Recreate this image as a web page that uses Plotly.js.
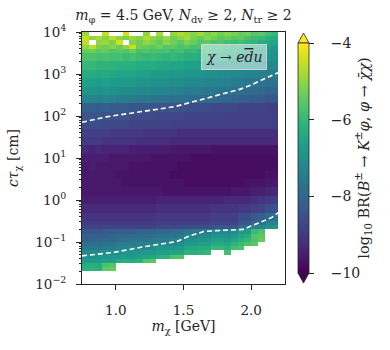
<!DOCTYPE html>
<html>
<head>
<meta charset="utf-8">
<script src="https://cdn.plot.ly/plotly-3.0.1.min.js"></script>
<style>
  html, body { margin:0; padding:0; background:#fff; }
  #chart { width:390px; height:350px; }
</style>
</head>
<body>
<div id="chart"></div>
<script>
var N = null; // empty cell (no events)

// bin edges: m_chi [GeV] and log10(c tau / cm)
var massEdges = [0.75,0.80,0.85,0.90,0.95,1.00,1.05,1.10,1.15,1.20,1.25,1.30,1.35,1.40,1.45,
                 1.50,1.55,1.60,1.65,1.70,1.75,1.80,1.85,1.90,1.95,2.00,2.05,2.10,2.15,2.20];
var logCtEdges = [-1.7,-1.6,-1.5,-1.4,-1.3,-1.2,-1.1,-1.0,-0.9,-0.8,-0.7,-0.6,-0.5,
                  -0.3,-0.1,0.1,0.3,0.5,0.7,0.9,1.1,1.3,1.5,1.7,1.9,2.1,2.3,2.5,2.7,2.9,3.1,3.3,3.5,
                  3.6,3.7,3.8,3.9,4.0];

// log10 BR reach, one row per c tau bin, from the bottom up
var brRows = [
 [-6.2,-6.1,-6.2,-5.5,-5.4,N,N,N,N,N,N,N,N,N,N,N,N,N,N,N,N,N,N,N,N,N,N,N,N],
 [-6.3,-6.2,-6.3,-5.7,-5.6,N,N,N,N,N,N,N,N,N,N,N,N,N,N,N,N,N,N,N,N,N,N,N,N],
 [-6.7,-6.8,-6.7,-6.6,-6.6,-6.3,-6.2,-6.3,-6.2,-5.6,-5.5,N,N,N,N,N,N,N,N,N,N,N,N,N,N,N,N,N,N],
 [-6.9,-7.0,-6.9,-6.9,-6.8,-6.7,-6.7,-6.7,-6.6,-6.5,-6.4,-6.2,-6.1,-5.7,-5.6,N,N,N,N,N,N,N,N,N,N,N,N,N,N],
 [-7.2,-7.2,-7.2,-7.1,-7.1,-7.0,-6.9,-6.9,-6.9,-6.8,-6.8,-6.6,-6.6,-6.5,-6.5,-6.1,-6.2,-6.1,-6.0,N,N,-5.8,N,N,N,N,N,N,N],
 [-7.6,-7.6,-7.6,-7.5,-7.5,-7.3,-7.3,-7.2,-7.2,-7.2,-7.1,-6.9,-6.9,-6.9,-6.8,-6.4,-6.4,-6.3,-6.3,-5.9,-6.0,-6.1,-5.8,-5.7,N,N,N,N,N],
 [-7.8,-7.8,-7.8,-7.7,-7.7,-7.5,-7.5,-7.5,-7.4,-7.4,-7.4,-7.2,-7.2,-7.2,-7.1,-6.7,-6.7,-6.6,-6.6,-6.3,-6.3,-6.4,-6.1,-5.9,-5.7,-5.5,N,N,N],
 [-8.1,-8.1,-8.0,-8.0,-8.0,-7.8,-7.8,-7.7,-7.7,-7.7,-7.6,-7.5,-7.5,-7.4,-7.4,-7.0,-7.0,-6.9,-6.9,-6.6,-6.6,-6.7,-6.5,-6.2,-6.0,-5.7,-5.4,N,N],
 [-8.2,-8.2,-8.2,-8.2,-8.1,-8.0,-8.0,-7.9,-7.9,-7.9,-7.9,-7.7,-7.7,-7.7,-7.6,-7.3,-7.3,-7.2,-7.2,-6.9,-6.9,-7.0,-6.8,-6.5,-6.3,-5.6,-5.5,N,N],
 [-8.4,-8.4,-8.4,-8.3,-8.3,-8.2,-8.2,-8.2,-8.1,-8.1,-8.1,-8.0,-8.0,-7.9,-7.9,-7.6,-7.6,-7.5,-7.5,-7.2,-7.2,-7.2,-7.1,-6.8,-6.7,-5.9,-5.7,N,N],
 [-8.8,-8.8,-8.8,-8.8,-8.8,-8.8,-8.8,-8.8,-8.8,-8.8,-8.8,-8.7,-8.7,-8.7,-8.7,-8.6,-8.6,-8.6,-8.6,-8.4,-8.4,-8.4,-8.4,-7.9,-7.8,-7.4,-7.2,-7.0,-6.9],
 [-9.0,-9.0,-9.0,-9.0,-9.0,-9.0,-9.0,-9.0,-9.0,-9.0,-9.0,-8.9,-8.9,-8.9,-8.9,-8.9,-8.9,-8.9,-8.9,-8.8,-8.8,-8.8,-8.8,-8.4,-8.3,-8.0,-7.8,-7.4,-7.3],
 [-9.1,-9.1,-9.1,-9.1,-9.1,-9.1,-9.1,-9.1,-9.1,-9.1,-9.1,-9.0,-9.0,-9.0,-9.0,-9.0,-9.0,-9.0,-9.0,-8.9,-8.9,-8.9,-8.9,-8.6,-8.6,-8.3,-8.2,-7.9,-7.8],
 [-9.3,-9.3,-9.3,-9.3,-9.3,-9.3,-9.3,-9.3,-9.3,-9.3,-9.3,-9.2,-9.2,-9.2,-9.2,-9.2,-9.2,-9.2,-9.2,-9.1,-9.1,-9.1,-9.1,-9.0,-9.0,-8.9,-8.8,-8.6,-8.5],
 [-9.5,-9.5,-9.5,-9.5,-9.5,-9.5,-9.5,-9.5,-9.5,-9.5,-9.5,-9.4,-9.4,-9.4,-9.4,-9.4,-9.4,-9.4,-9.4,-9.4,-9.4,-9.3,-9.3,-9.3,-9.3,-9.2,-9.1,-9.0,-8.9],
 [-9.6,-9.6,-9.6,-9.6,-9.6,-9.6,-9.6,-9.6,-9.6,-9.6,-9.6,-9.6,-9.7,-9.7,-9.7,-9.7,-9.7,-9.7,-9.7,-9.7,-9.7,-9.7,-9.6,-9.6,-9.6,-9.5,-9.5,-9.4,-9.3],
 [-9.6,-9.6,-9.6,-9.6,-9.6,-9.6,-9.7,-9.7,-9.7,-9.7,-9.7,-9.7,-9.7,-9.7,-9.7,-9.8,-9.8,-9.8,-9.8,-9.8,-9.8,-9.8,-9.8,-9.8,-9.7,-9.7,-9.7,-9.6,-9.6],
 [-9.6,-9.6,-9.6,-9.6,-9.6,-9.7,-9.7,-9.7,-9.7,-9.7,-9.7,-9.7,-9.7,-9.8,-9.8,-9.8,-9.8,-9.8,-9.8,-9.8,-9.8,-9.8,-9.8,-9.8,-9.8,-9.8,-9.8,-9.7,-9.7],
 [-9.6,-9.5,-9.6,-9.6,-9.6,-9.6,-9.6,-9.7,-9.7,-9.7,-9.7,-9.7,-9.7,-9.7,-9.8,-9.8,-9.8,-9.8,-9.8,-9.8,-9.8,-9.8,-9.8,-9.8,-9.8,-9.8,-9.8,-9.8,-9.8],
 [-9.5,-9.5,-9.5,-9.5,-9.6,-9.6,-9.6,-9.6,-9.6,-9.6,-9.7,-9.7,-9.7,-9.7,-9.7,-9.7,-9.8,-9.8,-9.8,-9.8,-9.8,-9.8,-9.8,-9.8,-9.8,-9.8,-9.8,-9.8,-9.8],
 [-9.3,-9.4,-9.3,-9.4,-9.4,-9.4,-9.4,-9.5,-9.5,-9.5,-9.5,-9.5,-9.5,-9.6,-9.6,-9.6,-9.6,-9.6,-9.6,-9.7,-9.7,-9.7,-9.7,-9.7,-9.7,-9.7,-9.7,-9.7,-9.7],
 [-9.0,-9.0,-9.0,-9.1,-9.1,-9.1,-9.1,-9.1,-9.2,-9.2,-9.2,-9.2,-9.2,-9.3,-9.3,-9.3,-9.3,-9.3,-9.3,-9.3,-9.3,-9.3,-9.3,-9.3,-9.3,-9.3,-9.3,-9.3,-9.3],
 [-8.9,-8.9,-8.9,-8.9,-9.0,-9.0,-9.0,-9.0,-9.0,-9.1,-9.1,-9.1,-9.1,-9.1,-9.2,-9.2,-9.2,-9.2,-9.2,-9.2,-9.2,-9.2,-9.2,-9.2,-9.2,-9.2,-9.2,-9.2,-9.2],
 [-8.6,-8.6,-8.6,-8.7,-8.7,-8.7,-8.7,-8.8,-8.8,-8.8,-8.8,-8.8,-8.8,-8.9,-8.9,-8.9,-8.9,-8.9,-8.9,-8.9,-8.9,-8.9,-8.9,-8.9,-8.9,-8.9,-8.9,-8.9,-8.9],
 [-8.4,-8.4,-8.4,-8.5,-8.5,-8.5,-8.5,-8.6,-8.6,-8.6,-8.6,-8.7,-8.7,-8.7,-8.7,-8.8,-8.8,-8.8,-8.8,-8.8,-8.8,-8.9,-8.9,-8.9,-8.9,-8.9,-8.9,-8.9,-8.9],
 [-8.2,-8.2,-8.3,-8.2,-8.3,-8.3,-8.3,-8.4,-8.4,-8.4,-8.4,-8.5,-8.5,-8.5,-8.5,-8.6,-8.6,-8.6,-8.6,-8.7,-8.7,-8.7,-8.7,-8.8,-8.8,-8.8,-8.8,-8.9,-8.9],
 [-7.3,-7.3,-7.4,-7.3,-7.4,-7.5,-7.5,-7.5,-7.6,-7.6,-7.7,-7.7,-7.7,-7.8,-7.8,-7.8,-7.9,-7.9,-8.0,-8.0,-8.0,-8.1,-8.1,-8.2,-8.2,-8.3,-8.3,-8.4,-8.4],
 [-6.9,-6.9,-7.0,-6.9,-7.0,-7.1,-7.1,-7.1,-7.2,-7.2,-7.3,-7.3,-7.3,-7.4,-7.4,-7.5,-7.5,-7.5,-7.6,-7.6,-7.7,-7.7,-7.8,-7.8,-7.9,-7.9,-8.0,-8.1,-8.1],
 [-6.6,-6.6,-6.7,-6.6,-6.7,-6.8,-6.8,-6.8,-6.9,-6.9,-7.0,-7.0,-7.0,-7.1,-7.1,-7.2,-7.2,-7.2,-7.3,-7.3,-7.4,-7.4,-7.5,-7.5,-7.6,-7.6,-7.7,-7.8,-7.8],
 [-6.3,-6.3,-6.4,-6.3,-6.4,-6.5,-6.5,-6.5,-6.6,-6.6,-6.7,-6.7,-6.7,-6.8,-6.8,-6.9,-6.9,-6.9,-7.0,-7.0,-7.1,-7.1,-7.2,-7.2,-7.3,-7.3,-7.4,-7.5,-7.5],
 [-6.0,-6.0,-6.1,-6.1,-6.1,-6.2,-6.2,-6.2,-6.3,-6.3,-6.3,-6.4,-6.4,-6.5,-6.5,-6.6,-6.6,-6.6,-6.7,-6.7,-6.8,-6.8,-6.9,-6.9,-7.0,-7.0,-7.1,-7.2,-7.2],
 [-5.7,-5.7,-5.8,-5.7,-5.8,-5.8,-5.9,-5.8,-5.9,-6.0,-5.9,-6.0,-6.1,-6.0,-6.1,-6.2,-6.2,-6.3,-6.3,-6.4,-6.4,-6.5,-6.5,-6.6,-6.7,-6.7,-6.8,-6.9,-7.0],
 [-5.4,-5.3,-5.5,-5.4,-5.6,-5.5,-5.6,-5.4,-5.7,-5.6,-5.7,-5.8,-5.7,-5.9,-5.8,-6.0,-5.9,-6.1,-6.0,-6.2,-6.1,-6.3,-6.3,-6.4,-6.5,-6.5,-6.7,-6.8,-6.9],
 [-5.0,-4.6,-5.2,-5.3,-5.1,-5.4,-5.0,-4.5,-5.3,-5.4,-5.5,-5.3,-5.6,-5.5,-5.7,-5.6,-5.8,-5.7,-5.9,-6.0,-5.9,-6.1,-6.2,-6.2,-6.3,-6.4,-6.5,-6.6,-6.7],
 [-4.6,N,-5.0,-4.9,-5.2,-4.4,N,-5.1,-5.3,-5.0,-5.2,-5.4,-5.1,-5.3,-5.5,-5.2,-5.4,-5.6,-5.5,-5.7,-5.6,-5.8,-5.9,-5.8,-6.0,-6.1,-6.3,-6.4,-6.5],
 [-4.5,-5.0,-4.8,-5.1,-4.6,-5.0,-5.2,-4.9,-5.1,-4.7,-5.0,-5.2,-4.9,-5.3,-5.1,-4.8,-5.2,-5.4,-5.1,-5.3,-5.5,-5.4,-5.6,-5.5,-5.8,-5.9,-6.0,-6.2,-6.3],
 [-4.9,N,N,-4.5,N,N,-4.4,N,N,-5.0,N,-4.8,N,-5.0,-4.7,-4.9,-5.1,-4.8,-5.2,-5.0,-5.3,-5.1,-5.2,-5.4,-5.3,-5.6,-5.5,-5.8,-6.0]
];

// white dashed boundaries: log10(c tau) against m_chi
var upperMass  = [0.75,0.93,1.18,1.43,1.55,1.67,1.80,1.92,2.00,2.13,2.21,2.25];
var upperLogCt = [1.85,1.98,2.10,2.22,2.32,2.42,2.53,2.64,2.74,2.94,3.05,3.10];
var lowerMass  = [0.75,0.98,1.23,1.45,1.55,1.65,1.80,1.94,2.00,2.08,2.15,2.21,2.25];
var lowerLogCt = [-1.33,-1.25,-1.10,-0.99,-0.85,-0.75,-0.72,-0.70,-0.62,-0.52,-0.42,-0.28,-0.22];

// decade ticks on the c tau axis
var ctTickPowers = [-2,-1,0,1,2,3,4];
// colour bar ticks
var brTicks = [-10,-8,-6,-4];

var serif = 'DejaVu Serif, Liberation Serif, serif';
var ink = '#262626';

function pow10(a) { return a.map(function (v) { return Math.pow(10, v); }); }
function minus(v) { return String(v).replace('-', '\u2212'); }

// plot box in pixels, used for the colorbar end triangles
var L = 82, R = 105, T = 32, B = 66, W = 390, H = 350;
var pw = W - L - R, ph = H - T - B;
function px(x) { return (x - L) / pw; }
function py(y) { return (H - B - y) / ph; }

var heat = {
    type: 'heatmap',
    x: massEdges,
    y: pow10(logCtEdges),
    z: brRows,
    colorscale: 'Viridis',
    zmin: -10, zmax: -4,
    hoverongaps: false,
    colorbar: {
        thickness: 11, thicknessmode: 'pixels',
        len: 230, lenmode: 'pixels',
        x: px(298), xanchor: 'left', xpad: 0,
        y: 0.5, yanchor: 'middle', ypad: 0,
        outlinewidth: 0.8, outlinecolor: ink,
        tickvals: brTicks,
        ticktext: brTicks.map(function (v) { return '\u2003' + minus(v); }),
        ticks: 'outside', ticklen: 5, tickcolor: ink,
        tickfont: {family: serif, size: 14, color: ink},
        title: {
            text: 'log<sub>10</sub> BR(<i>B</i><sup>±</sup> → <i>K</i><sup>±</sup><i>φ</i>, <i>φ</i> → <i>χ̄χ</i>)',
            side: 'right',
            font: {family: serif, size: 14.5, color: ink}
        }
    }
};

var dash = {color: 'white', width: 1.6, dash: '5px,3px'};
var upper = {type: 'scatter', mode: 'lines', x: upperMass, y: pow10(upperLogCt), line: dash, hoverinfo: 'skip', showlegend: false};
var lower = {type: 'scatter', mode: 'lines', x: lowerMass, y: pow10(lowerLogCt), line: dash, hoverinfo: 'skip', showlegend: false};

function tri(xa, xb, yb, yt) {
    var xm = (xa + xb) / 2;
    return 'M' + px(xa) + ',' + py(yb) + ' L' + px(xb) + ',' + py(yb) + ' L' + px(xm) + ',' + py(yt) + ' Z';
}

var layout = {
    width: W, height: H,
    margin: {l: L, r: R, t: T, b: B},
    paper_bgcolor: 'white', plot_bgcolor: 'white',
    font: {family: serif, color: ink},
    showlegend: false,
    title: {
        text: '<i>m</i><sub>φ</sub> = 4.5 GeV, <i>N</i><sub>dv</sub> ≥ 2, <i>N</i><sub>tr</sub> ≥ 2',
        x: px(183.5), xref: 'paper', xanchor: 'center',
        y: 1 - 15 / H, yref: 'container', yanchor: 'middle',
        font: {family: serif, size: 14, color: ink}
    },
    xaxis: {
        range: [0.75, 2.25],
        tickvals: [1.0, 1.5, 2.0], tickformat: '.1f',
        ticks: 'outside', ticklen: 5, tickcolor: ink,
        ticklabelstandoff: 9,
        showline: true, mirror: true, linecolor: ink, linewidth: 1,
        showgrid: false, zeroline: false,
        tickfont: {family: serif, size: 13.5, color: ink},
        title: {text: '<i>m</i><sub>χ</sub> [GeV]', font: {family: serif, size: 14, color: ink}, standoff: 3}
    },
    yaxis: {
        type: 'log', range: [-2, 4],
        tickvals: pow10(ctTickPowers),
        ticktext: ctTickPowers.map(function (p) { return '10<sup>' + minus(p) + '</sup>'; }),
        ticks: 'outside', ticklen: 5, tickcolor: ink,
        minor: {ticks: 'outside', ticklen: 2.5, tickcolor: ink, dtick: 'D1', showgrid: false},
        ticklabelstandoff: 7,
        showline: true, mirror: true, linecolor: ink, linewidth: 1,
        showgrid: false, zeroline: false,
        tickfont: {family: serif, size: 13.5, color: ink},
        title: {text: '<i>cτ</i><sub>χ</sub> [cm]', font: {family: serif, size: 14, color: ink}, standoff: 13}
    },
    annotations: [{
        xref: 'paper', yref: 'paper', x: px(234), y: py(57),
        xanchor: 'center', yanchor: 'middle',
        text: '<i>χ</i> → <i>e<span style="text-decoration:overline">d</span>u</i>', showarrow: false,
        font: {family: serif, size: 14, color: ink},
        bgcolor: 'rgba(255,255,255,0.5)', bordercolor: 'rgba(215,215,215,0.9)', borderwidth: 1, borderpad: 4
    }],
    shapes: [
        {type: 'path', xref: 'paper', yref: 'paper', path: tri(298, 309, 43, 33), fillcolor: '#fde725', line: {color: ink, width: 0.8}},
        {type: 'path', xref: 'paper', yref: 'paper', path: tri(298, 309, 273, 283), fillcolor: '#440154', line: {color: ink, width: 0.8}}
    ]
};

Plotly.newPlot('chart', [heat, upper, lower], layout, {displayModeBar: false, staticPlot: true});
</script>
</body>
</html>
